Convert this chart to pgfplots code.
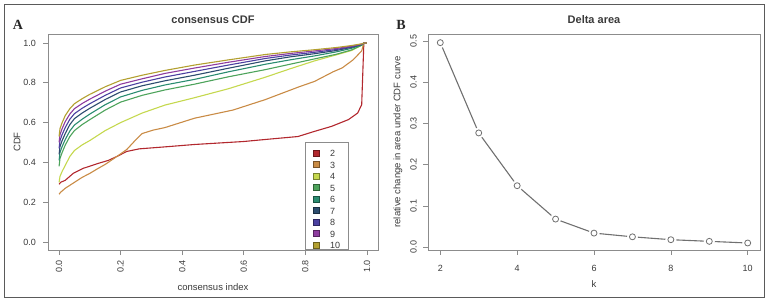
\documentclass[border=0pt]{standalone}
\usepackage{pgfplots}
\pgfplotsset{compat=1.18}
\usepackage{fontspec}
\setmainfont{Liberation Sans}
\newfontfamily\panelfont{Liberation Serif}

% one colour for each number of clusters k
\definecolor{c2}{HTML}{B2282E}
\definecolor{c3}{HTML}{C98B45}
\definecolor{c4}{HTML}{C5D84E}
\definecolor{c5}{HTML}{4DA35B}
\definecolor{c6}{HTML}{2A8C70}
\definecolor{c7}{HTML}{2C4C6E}
\definecolor{c8}{HTML}{4B40A0}
\definecolor{c9}{HTML}{8E3C9F}
\definecolor{c10}{HTML}{B3A030}
\definecolor{axgray}{HTML}{8C8C8C}
\definecolor{txtgray}{HTML}{3A3A3A}
\definecolor{linegray}{HTML}{707070}
\definecolor{framegray}{HTML}{5A5A5A}

\pgfplotsset{
  rstyle/.style={
    scale only axis,
    anchor=south west,
    axis line style={draw=axgray, line width=0.7pt},
    tick style={draw=axgray, line width=0.7pt},
    tick align=outside,
    major tick length=5pt,
    xtick pos=bottom, ytick pos=left,
    ticklabel style={font=\fontsize{9}{9}\selectfont, text=txtgray, inner sep=0pt},
    label style={font=\fontsize{9.5}{9.5}\selectfont, text=txtgray, inner sep=0pt},
    title style={font=\bfseries\fontsize{11}{11}\selectfont, text=txtgray, inner sep=0pt,
                 at={(axis description cs:0.5,1)}, anchor=center, yshift=8.5pt},
  },
}

\begin{document}
\begin{tikzpicture}
\useasboundingbox (0,0) rectangle (770pt,302pt);
\draw[framegray, line width=0.9pt] (4.5pt,5pt) rectangle (764pt,298pt);

\node[font=\panelfont\bfseries\fontsize{14}{14}\selectfont, text=black!85] at (18pt,277pt) {A};
\node[font=\panelfont\bfseries\fontsize{14}{14}\selectfont, text=black!85] at (401pt,277pt) {B};

% ---------------- consensus CDF ----------------
\begin{axis}[rstyle,
  at={(48pt,52pt)}, width=330pt, height=216pt,
  xmin=-0.036, xmax=1.036, ymin=-0.04, ymax=1.045,
  xtick={0,0.2,...,1.0}, ytick={0,0.2,...,1.0},
  /pgf/number format/fixed, /pgf/number format/fixed zerofill,
  /pgf/number format/precision=1, /pgf/number format/assume math mode=true,
  xticklabel style={rotate=90, anchor=east},
  yticklabel style={anchor=east},
  xticklabel shift=5pt,
  yticklabel shift=7pt,
  xlabel={consensus index}, ylabel={CDF},
  xlabel style={at={(axis description cs:0.5,0)}, anchor=center, yshift=-37pt},
  ylabel style={at={(axis description cs:0,0.5)}, anchor=center, yshift=31pt},
  title={consensus CDF},
  every axis plot/.append style={line width=1.1pt},
  legend image code/.code={\draw[#1, line width=0.6pt, fill=., draw=.!60!black] (0pt,0.5pt) rectangle (6pt,6.5pt);},
  legend style={at={(rel axis cs:0.779,0)}, anchor=south west, draw=axgray, line width=0.7pt,
    fill=white, inner xsep=8pt, inner ysep=1pt, row sep=4.5pt, column sep=10pt,
    font=\fontsize{9}{9}\selectfont, text=txtgray,
    nodes={inner sep=0pt, text height=7pt, text depth=0pt, anchor=base west}},
  legend cell align=left,
]
\addplot[c2] coordinates {
 (0,0.29) (0.005,0.30) (0.02,0.31) (0.046,0.345) (0.078,0.37) (0.127,0.395)
 (0.16,0.41) (0.188,0.43) (0.22,0.455) (0.26,0.468) (0.36,0.48) (0.44,0.49)
 (0.6,0.505) (0.669,0.515) (0.776,0.53) (0.83,0.556) (0.885,0.581) (0.94,0.615)
 (0.97,0.648) (0.983,0.69) (0.99,1.0) (1.0,1.0)};
\addlegendentry[text height=13.5pt]{2}
\addplot[c3] coordinates {
 (0,0.24) (0.005,0.25) (0.02,0.27) (0.05,0.30) (0.075,0.325) (0.1,0.345)
 (0.127,0.37) (0.15,0.39) (0.188,0.43) (0.22,0.465) (0.25,0.515) (0.27,0.545)
 (0.305,0.562) (0.344,0.575) (0.44,0.622) (0.565,0.663) (0.669,0.715) (0.78,0.78)
 (0.83,0.807) (0.89,0.855) (0.92,0.875) (0.955,0.915) (0.983,0.96) (0.99,1.0) (1.0,1.0)};
\addlegendentry{3}
\addplot[c4] coordinates {
 (0,0.30) (0.003,0.33) (0.01,0.355) (0.02,0.385) (0.035,0.43) (0.05,0.46)
 (0.075,0.488) (0.1,0.51) (0.15,0.56) (0.2,0.60) (0.27,0.648) (0.344,0.688)
 (0.44,0.725) (0.55,0.77) (0.67,0.828) (0.75,0.87) (0.83,0.91) (0.9,0.94)
 (0.95,0.962) (0.985,0.99) (0.99,1.0) (1.0,1.0)};
\addlegendentry{4}
\addplot[c5] coordinates {
 (0,0.38) (0.003,0.42) (0.01,0.45) (0.02,0.487) (0.035,0.53) (0.05,0.56)
 (0.075,0.59) (0.1,0.615) (0.15,0.663) (0.2,0.703) (0.27,0.737) (0.344,0.764)
 (0.44,0.793) (0.55,0.83) (0.67,0.866) (0.75,0.893) (0.83,0.92) (0.9,0.943)
 (0.95,0.965) (0.985,0.99) (0.99,1.0) (1.0,1.0)};
\addlegendentry{5}
\addplot[c6] coordinates {
 (0,0.41) (0.003,0.45) (0.01,0.48) (0.02,0.515) (0.035,0.558) (0.05,0.588)
 (0.075,0.617) (0.1,0.643) (0.15,0.69) (0.2,0.729) (0.27,0.762) (0.344,0.789)
 (0.44,0.817) (0.55,0.855) (0.67,0.893) (0.75,0.915) (0.83,0.935) (0.9,0.955)
 (0.95,0.973) (0.985,0.992) (0.99,1.0) (1.0,1.0)};
\addlegendentry{6}
\addplot[c7] coordinates {
 (0,0.44) (0.003,0.48) (0.01,0.51) (0.02,0.545) (0.035,0.59) (0.05,0.62)
 (0.075,0.648) (0.1,0.672) (0.15,0.716) (0.2,0.754) (0.27,0.785) (0.344,0.81)
 (0.44,0.838) (0.55,0.873) (0.67,0.91) (0.75,0.93) (0.83,0.946) (0.9,0.962)
 (0.95,0.978) (0.985,0.993) (0.99,1.0) (1.0,1.0)};
\addlegendentry{7}
\addplot[c8] coordinates {
 (0,0.47) (0.003,0.51) (0.01,0.54) (0.02,0.575) (0.035,0.617) (0.05,0.645)
 (0.075,0.672) (0.1,0.695) (0.15,0.737) (0.2,0.774) (0.27,0.803) (0.344,0.829)
 (0.44,0.857) (0.55,0.889) (0.67,0.922) (0.75,0.939) (0.83,0.953) (0.9,0.967)
 (0.95,0.981) (0.985,0.994) (0.99,1.0) (1.0,1.0)};
\addlegendentry{8}
\addplot[c9] coordinates {
 (0,0.50) (0.003,0.54) (0.01,0.57) (0.02,0.605) (0.035,0.643) (0.05,0.67)
 (0.075,0.696) (0.1,0.718) (0.15,0.758) (0.2,0.793) (0.27,0.82) (0.344,0.847)
 (0.44,0.874) (0.55,0.903) (0.67,0.932) (0.75,0.947) (0.83,0.96) (0.9,0.972)
 (0.95,0.984) (0.985,0.995) (0.99,1.0) (1.0,1.0)};
\addlegendentry{9}
\addplot[c10] coordinates {
 (0,0.53) (0.003,0.57) (0.01,0.60) (0.02,0.635) (0.035,0.67) (0.05,0.695)
 (0.075,0.72) (0.1,0.742) (0.15,0.78) (0.2,0.812) (0.27,0.838) (0.344,0.862)
 (0.44,0.889) (0.55,0.915) (0.67,0.942) (0.75,0.955) (0.83,0.966) (0.9,0.977)
 (0.95,0.987) (0.985,0.996) (0.99,1.0) (1.0,1.0)};
\addlegendentry{10}
\end{axis}

% ---------------- Delta area ----------------
\begin{axis}[rstyle,
  at={(428pt,52pt)}, width=332pt, height=216pt,
  xmin=1.68, xmax=10.32, ymin=-0.007, ymax=0.517,
  xtick={2,4,...,10}, ytick={0,0.1,...,0.5},
  /pgf/number format/assume math mode=true,
  yticklabel style={rotate=90, anchor=south,
    /pgf/number format/fixed, /pgf/number format/fixed zerofill,
    /pgf/number format/precision=1},
  xticklabel style={anchor=north},
  xticklabel shift=10pt,
  yticklabel shift=6pt,
  xlabel={k}, ylabel={relative change in area under CDF curve},
  xlabel style={at={(axis description cs:0.5,0)}, anchor=center, yshift=-34pt},
  ylabel style={at={(axis description cs:0,0.5)}, anchor=center, yshift=30pt},
  title={Delta area},
]
\pgfplotstableread{
k   delta
2   0.496
3   0.277
4   0.149
5   0.068
6   0.034
7   0.025
8   0.018
9   0.014
10  0.010
}\deltatab
\addplot[linegray, line width=1.1pt] table[x=k, y=delta] {\deltatab};
\addplot[only marks, mark=*, mark size=5.3pt, white, mark options={draw=none}] table[x=k, y=delta] {\deltatab};
\addplot[only marks, mark=o, mark size=3pt, linegray, mark options={line width=0.8pt}] table[x=k, y=delta] {\deltatab};
\end{axis}
\end{tikzpicture}
\end{document}
